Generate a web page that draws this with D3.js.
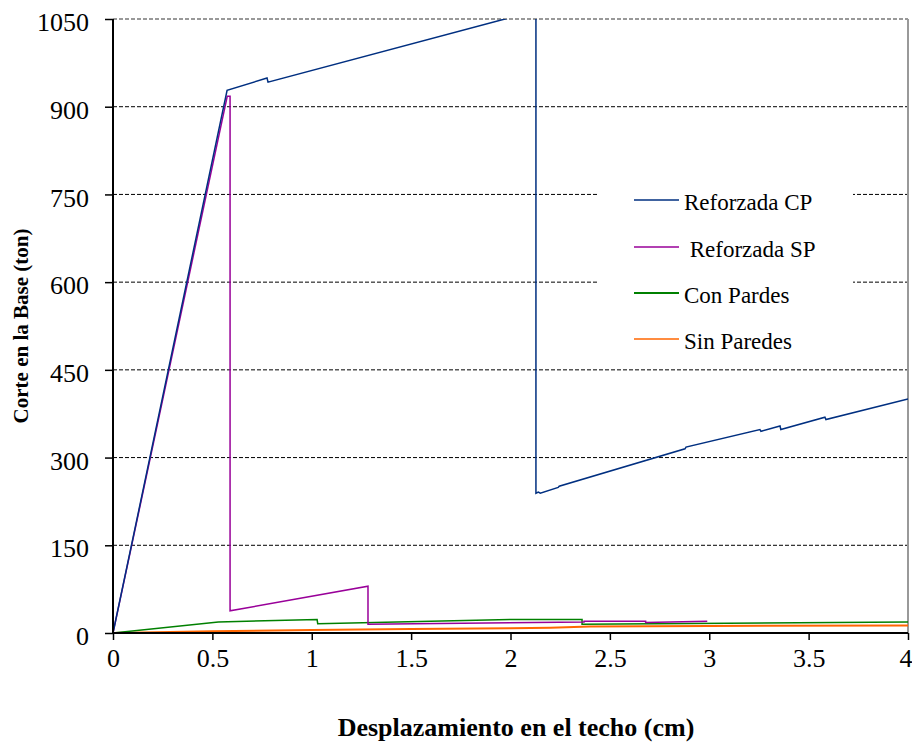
<!DOCTYPE html>
<html><head><meta charset="utf-8">
<script src="https://cdn.jsdelivr.net/npm/d3@7"></script>
</head><body style="margin:0;background:#fff">
<svg id="c" width="912" height="742"></svg>
<script>
const xTicks = [0,0.5,1,1.5,2,2.5,3,3.5,4];
const yTicks = [0,150,300,450,600,750,900,1050];
const seriesNames = ["Reforzada CP"," Reforzada SP","Con Pardes","Sin Paredes"];
const seriesColors = ["#002f80","#990099","#008000","#ff6600"];
const cpX = [0,0.574,0.775,0.78,1.972,2.128,2.128,2.14,2.15,2.24,2.245,2.878,2.883,3.255,3.26,3.356,3.36,3.582,3.587,4];
const cpY = [0,928,949,942,1050,1064,239,241,239,249,251,315,318,348,345,354,348,369,365,400];
const spX = [0,0.575,0.589,0.589,1.283,1.283,2.37,2.37,2.68,2.68,2.99];
const spY = [0,918,918,38,80,15,19,20,20,18,20];
const cwX = [0,0.53,1.027,1.03,2.0,2.36,2.36,4];
const cwY = [0,19,23,16,23,23,15,19];
const swX = [0,0.5,1,1.5,2,2.2,2.4,3,4];
const swY = [0,3,5,7,8,9,11,12,13];

const FF = "Liberation Serif";
const svg = d3.select("#c");
const L=113,R=908,T=19,B=633;
const x = d3.scaleLinear().domain([0,4]).range([L,R]);
const y = d3.scaleLinear().domain([0,1050]).range([B,T]);

// grid
svg.append("g").selectAll("line").data(yTicks.filter(d=>d>0&&d<1050)).join("line")
  .attr("x1",L).attr("x2",R).attr("y1",d=>y(d)).attr("y2",d=>y(d))
  .attr("stroke","#000").attr("stroke-width",1).attr("stroke-dasharray","4,2");
svg.append("line").attr("x1",L).attr("x2",R).attr("y1",y(1050)).attr("y2",y(1050))
  .attr("stroke","#999").attr("stroke-width",2).attr("stroke-dasharray","4,2");
svg.append("line").attr("x1",R).attr("x2",R).attr("y1",T).attr("y2",B)
  .attr("stroke","#999").attr("stroke-width",2);

// legend background
svg.append("rect").attr("x",597).attr("y",168).attr("width",256).attr("height",194).attr("fill","#fff");

// series
svg.append("clipPath").attr("id","clp").append("rect").attr("x",L).attr("y",T).attr("width",R-L).attr("height",B-T);
const line = d3.line().x(d=>x(d[0])).y(d=>y(d[1]));
const data = [[cpX,cpY],[spX,spY],[cwX,cwY],[swX,swY]].map(([a,b])=>a.map((v,i)=>[v,b[i]]));
[3,2,1,0].forEach(i=>{
  svg.append("path").attr("d",line(data[i])).attr("fill","none")
    .attr("stroke",seriesColors[i]).attr("stroke-width",i==3?2:1.5).attr("clip-path","url(#clp)");
});

// axes
const ya = svg.append("g").attr("transform",`translate(${L},0)`)
  .call(d3.axisLeft(y).tickValues(yTicks).tickSize(8).tickPadding(16).tickFormat(d3.format("d")));
ya.attr("font-family",FF).attr("font-size",26);
ya.select(".domain").attr("stroke","#000").attr("stroke-width",2).attr("d",`M0,${T}V${B}`);
ya.selectAll(".tick line").attr("stroke-width",1.5);
ya.selectAll("text").attr("font-family",FF).attr("font-size",26).attr("dy","0.45em");
const xa = svg.append("g").attr("transform",`translate(0,${B})`)
  .call(d3.axisBottom(x).tickValues(xTicks).tickSize(7).tickPadding(9).tickFormat(d=>String(d)));
xa.attr("font-family",FF).attr("font-size",26);
xa.select(".domain").attr("stroke","#000").attr("stroke-width",2).attr("d",`M${L},0H${R}`);
xa.selectAll(".tick line").attr("stroke-width",1.5);
xa.selectAll("text").attr("font-family",FF).attr("font-size",26)
  .attr("text-anchor",d=>d===4?"end":"middle").attr("dx",d=>d===4?"4":"0");

// titles
svg.append("text").attr("x",516).attr("y",736).attr("text-anchor","middle").attr("font-family",FF)
  .attr("font-size",26).attr("font-weight","bold").text("Desplazamiento en el techo (cm)");
svg.append("text").attr("transform","translate(28,326) rotate(-90)").attr("text-anchor","middle").attr("font-family",FF)
  .attr("font-size",21).attr("font-weight","bold").text("Corte en la Base (ton)");

// legend
const ly=[200,247,293,339];
seriesNames.forEach((n,i)=>{
  svg.append("line").attr("x1",634).attr("x2",679).attr("y1",ly[i]).attr("y2",ly[i])
    .attr("stroke",seriesColors[i]).attr("stroke-width",i==2?2:1.3);
  svg.append("text").attr("x",684).attr("y",ly[i]+10).attr("font-size",23).attr("font-family",FF)
    .attr("xml:space","preserve").style("white-space","pre").text(n);
});
</script>
</body></html>
